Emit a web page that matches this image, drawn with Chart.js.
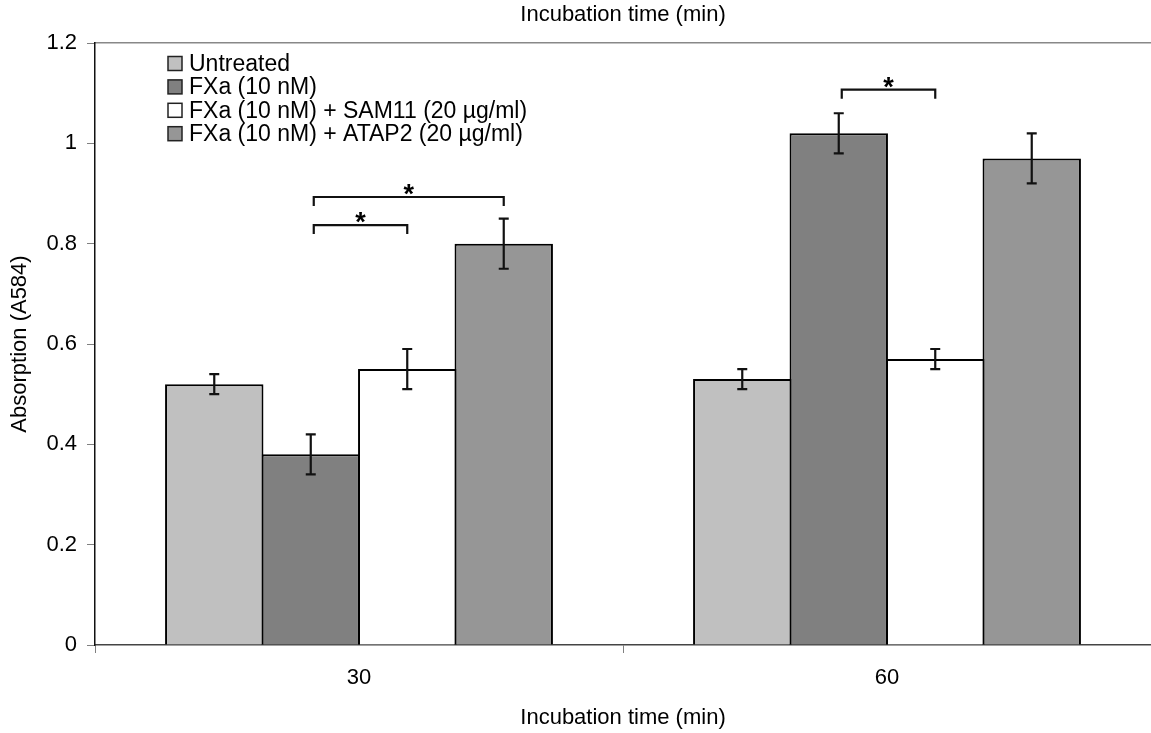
<!DOCTYPE html>
<html>
<head>
<meta charset="utf-8">
<script src="https://cdn.jsdelivr.net/npm/chart.js@4/dist/chart.umd.min.js"></script>
<style>
  html, body { margin: 0; padding: 0; background: #fff; }
  #wrap { width: 1151px; height: 733px; }
</style>
</head>
<body>
<div id="wrap"><canvas id="absChart" width="1151" height="733"></canvas></div>
<script>
// Incubation times (categories)
const times = ['30', '60'];

// Mean absorption per treatment
const untreated = [0.52, 0.53];
const fxa = [0.38, 1.02];
const fxaSam11 = [0.55, 0.57];
const fxaAtap2 = [0.80, 0.97];

// Error bar half-widths
const errUntreated = [0.02, 0.02];
const errFxa = [0.04, 0.04];
const errSam11 = [0.04, 0.02];
const errAtap2 = [0.05, 0.05];

const seriesNames = ['Untreated', 'FXa (10 nM)', 'FXa (10 nM) + SAM11 (20 µg/ml)', 'FXa (10 nM) + ATAP2 (20 µg/ml)'];
const fills = ['#c0c0c0', '#808080', '#ffffff', '#969696'];
const errors = [errUntreated, errFxa, errSam11, errAtap2];

// Significance brackets: category index, from/to dataset index, height in data units
const brackets = [
    { cat: 0, from: 1, to: 2, y: 0.837 },
    { cat: 0, from: 1, to: 3, y: 0.893 },
    { cat: 1, from: 1, to: 2, y: 1.107 }
];

const FONT = "'Liberation Sans', Arial, sans-serif";
Chart.defaults.font.family = FONT;
Chart.defaults.font.size = 22;
Chart.defaults.color = '#000';

const overlay = {
    id: 'overlay',
    afterDatasetsDraw(chart) {
        const ctx = chart.ctx;
        const yScale = chart.scales.y;
        ctx.save();

        // error bars
        ctx.strokeStyle = '#111';
        ctx.lineWidth = 2.2;
        chart.data.datasets.forEach((ds, di) => {
            const meta = chart.getDatasetMeta(di);
            meta.data.forEach((bar, i) => {
                const v = ds.data[i], e = errors[di][i];
                const yTop = yScale.getPixelForValue(v + e);
                const yBot = yScale.getPixelForValue(v - e);
                ctx.beginPath();
                ctx.moveTo(bar.x, yTop); ctx.lineTo(bar.x, yBot);
                ctx.moveTo(bar.x - 5, yTop); ctx.lineTo(bar.x + 5, yTop);
                ctx.moveTo(bar.x - 5, yBot); ctx.lineTo(bar.x + 5, yBot);
                ctx.stroke();
            });
        });

        // significance brackets
        ctx.lineWidth = 2.2;
        ctx.font = 'bold 27px ' + FONT;
        ctx.fillStyle = '#000';
        ctx.textAlign = 'center';
        ctx.textBaseline = 'alphabetic';
        brackets.forEach(b => {
            const x1 = chart.getDatasetMeta(b.from).data[b.cat].x + 3;
            const x2 = chart.getDatasetMeta(b.to).data[b.cat].x;
            const y = yScale.getPixelForValue(b.y);
            ctx.beginPath();
            ctx.moveTo(x1, y + 9); ctx.lineTo(x1, y); ctx.lineTo(x2, y); ctx.lineTo(x2, y + 9);
            ctx.stroke();
            ctx.fillText('*', (x1 + x2) / 2, y + 6);
        });

        // legend
        ctx.font = '23px ' + FONT;
        ctx.textAlign = 'left';
        ctx.textBaseline = 'middle';
        ctx.lineWidth = 1.5;
        seriesNames.forEach((name, i) => {
            const cy = 63.5 + i * 23.4;
            ctx.fillStyle = fills[i];
            ctx.fillRect(168, cy - 7, 14, 14);
            ctx.strokeStyle = '#222';
            ctx.strokeRect(168, cy - 7, 14, 14);
            ctx.fillStyle = '#000';
            ctx.fillText(name, 189, cy + 1);
        });
        ctx.restore();
    }
};

new Chart(document.getElementById('absChart'), {
    type: 'bar',
    data: {
        labels: times,
        datasets: [untreated, fxa, fxaSam11, fxaAtap2].map((d, i) => ({
            label: seriesNames[i],
            data: d,
            backgroundColor: fills[i],
            borderColor: '#000',
            borderWidth: 2,
            inflateAmount: 0,
            categoryPercentage: 0.731,
            barPercentage: 1.02
        }))
    },
    options: {
        responsive: false,
        animation: false,
        layout: { padding: 0 },
        plugins: { legend: { display: false }, tooltip: { enabled: false } },
        scales: {
            x: {
                position: 'bottom',
                grid: { drawOnChartArea: false, tickLength: 8, color: '#808080', offset: true },
                border: { color: '#444', width: 1.5 },
                ticks: { padding: 12, font: { size: 22 } },
                title: { display: true, text: 'Incubation time (min)', font: { size: 22 }, padding: { top: 0, bottom: 2 } },
                afterFit(axis) { axis.height = 88; }
            },
            x2: {
                type: 'category',
                labels: times,
                position: 'top',
                grid: { display: false },
                border: { color: '#888', width: 1.5 },
                ticks: { display: false },
                title: { display: true, text: 'Incubation time (min)', font: { size: 22 }, padding: { top: 2, bottom: 0 } },
                afterFit(axis) { axis.height = 43; }
            },
            y: {
                min: 0,
                max: 1.2,
                ticks: {
                    stepSize: 0.2,
                    padding: 10,
                    font: { size: 22 },
                    callback: v => String(Number(v.toFixed(1)))
                },
                grid: { drawOnChartArea: false, tickLength: 8, color: '#808080' },
                border: { color: '#111', width: 1.5 },
                title: { display: true, text: 'Absorption (A584)', font: { size: 22 }, padding: { top: 7, bottom: 0 } },
                afterFit(axis) { axis.width = 95; }
            }
        }
    },
    plugins: [overlay]
});
</script>
</body>
</html>
